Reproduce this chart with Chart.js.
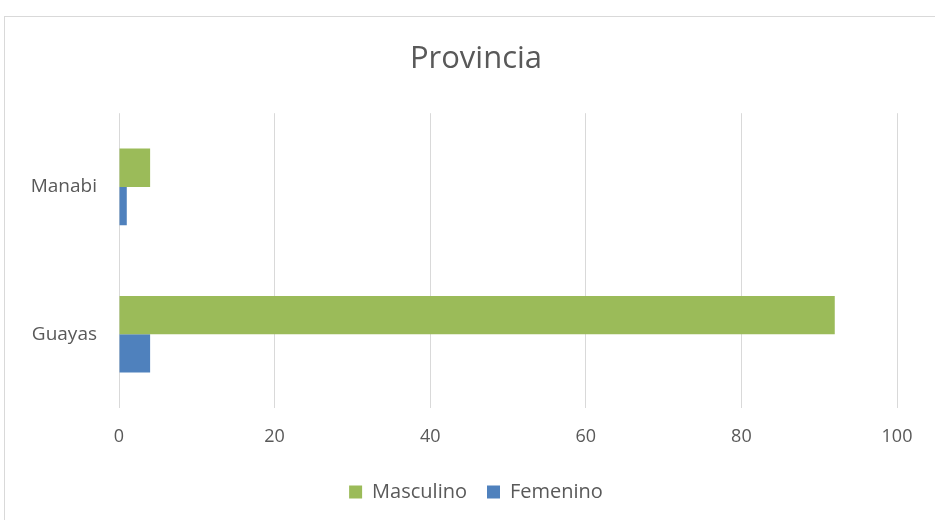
<!DOCTYPE html>
<html>
<head>
<meta charset="utf-8">
<script src="https://cdn.jsdelivr.net/npm/chart.js@4/dist/chart.umd.min.js"></script>
<style>
  html, body { margin: 0; padding: 0; background: #fff; overflow: hidden; }
  #frame { position: absolute; left: 4px; top: 16px; width: 960px; height: 540px; border: 1px solid #d9d9d9; box-sizing: border-box; }
  #wrap { position: absolute; left: 0; top: 0; width: 935px; height: 520px; }
</style>
</head>
<body>
<div id="frame"></div>
<div id="wrap"><canvas id="c" width="935" height="520"></canvas></div>
<script>
const categories = ['Manabi', 'Guayas'];
const masculino = [4, 92];
const femenino = [1, 4];
const xTicks = [0, 20, 40, 60, 80, 100];

const FONT = '"Open Sans", "Liberation Sans", sans-serif';
const GRAY = '#595959';
const PAD_LEFT = 55;

new Chart(document.getElementById('c'), {
  type: 'bar',
  data: {
    labels: categories,
    datasets: [
      { label: 'Masculino', data: masculino, backgroundColor: '#9BBB59', borderWidth: 0 },
      { label: 'Femenino', data: femenino, backgroundColor: '#4F81BD', borderWidth: 0 }
    ]
  },
  options: {
    indexAxis: 'y',
    responsive: false,
    animation: false,
    datasets: { bar: { categoryPercentage: 0.52, barPercentage: 1.0 } },
    layout: { padding: { left: PAD_LEFT, right: 38, top: 0, bottom: 8 } },
    plugins: {
      title: {
        display: true,
        text: 'Provincia',
        color: GRAY,
        font: { family: FONT, size: 31, weight: 'normal' },
        padding: { top: 41, bottom: 35 }
      },
      legend: {
        position: 'bottom',
        labels: {
          color: GRAY,
          font: { family: FONT, size: 20 },
          boxWidth: 13,
          boxHeight: 13,
          padding: 20
        }
      },
      tooltip: { enabled: false }
    },
    scales: {
      x: {
        min: xTicks[0],
        max: xTicks[xTicks.length - 1],
        afterBuildTicks: (s) => { s.ticks = xTicks.map(v => ({ value: v })); },
        afterFit: (s) => { s.height = 54; },
        grid: { color: '#d9d9d9', lineWidth: 1, drawTicks: false },
        border: { display: false },
        ticks: { color: GRAY, font: { family: FONT, size: 18 }, padding: 18 }
      },
      y: {
        afterFit: (s) => {
          s.width = 119 - PAD_LEFT;
          s._computeLabelArea = () => undefined;
        },
        grid: { display: false, drawTicks: false },
        border: { display: false },
        ticks: { color: GRAY, font: { family: FONT, size: 19 }, padding: 22 }
      }
    }
  }
});
</script>
</body>
</html>
